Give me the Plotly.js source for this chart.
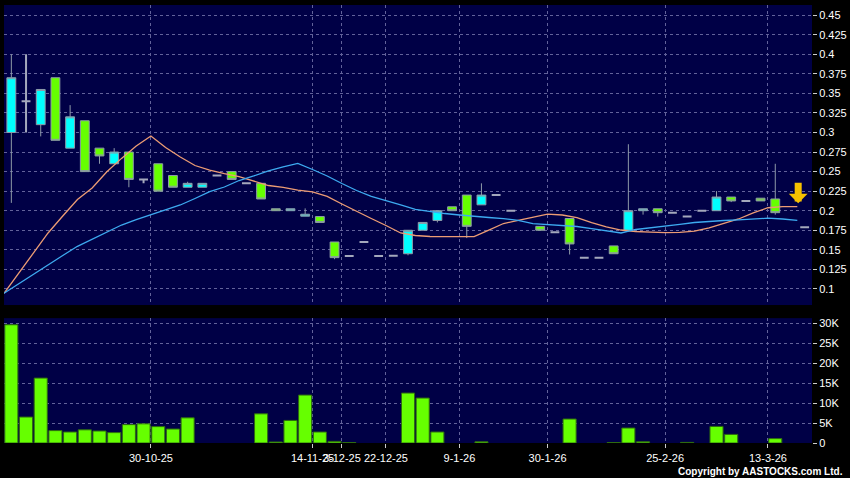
<!DOCTYPE html>
<html>
<head>
<meta charset="utf-8">
<script src="https://cdn.plot.ly/plotly-3.0.1.min.js"></script>
<style>
html,body{margin:0;padding:0;background:#000;}
#chart{width:850px;height:478px;}
</style>
</head>
<body>
<div id="chart"></div>
<script>
// ---- Candles with a real body (trading-day slot index) ----
const candleSlot  = [0,2,3,4,5,6,7,8,10,11,12,13,15,17,18,19,20,21,22,27,28,29,30,31,32,36,38,41,42,43,44,48,49,51,52];
const candleOpen  = [0.30,0.31,0.37,0.28,0.315,0.28,0.26,0.275,0.26,0.245,0.23,0.23,0.25,0.235,0.2025,0.2,0.193,0.1925,0.16,0.145,0.175,0.1875,0.205,0.22,0.2075,0.18,0.19,0.155,0.175,0.2,0.2025,0.2,0.2175,0.216,0.215];
const candleHigh  = [0.40,0.355,0.37,0.335,0.315,0.28,0.28,0.275,0.26,0.245,0.237,0.235,0.25,0.235,0.2025,0.2025,0.203,0.1925,0.16,0.175,0.185,0.2,0.205,0.22,0.235,0.18,0.19,0.155,0.285,0.2025,0.2025,0.225,0.2175,0.216,0.26];
const candleLow   = [0.21,0.295,0.29,0.28,0.25,0.26,0.26,0.23,0.225,0.23,0.23,0.23,0.24,0.215,0.2,0.2,0.193,0.185,0.138,0.143,0.175,0.185,0.2,0.165,0.2075,0.175,0.144,0.145,0.173,0.195,0.1925,0.2,0.211,0.2125,0.195];
const candleClose = [0.37,0.355,0.29,0.32,0.25,0.27,0.275,0.24,0.225,0.23,0.235,0.235,0.24,0.215,0.2,0.2025,0.1955,0.185,0.14,0.175,0.185,0.2,0.2,0.18,0.22,0.175,0.1575,0.145,0.2,0.2025,0.1975,0.2175,0.2125,0.2125,0.1975];

// ---- Flat (no-change) days drawn as dashes ----
const dashSlot  = [1,9,14,16,23,24,25,26,33,34,37,39,40,45,46,47,50,54];
const dashPrice = [0.34,0.24,0.245,0.235,0.142,0.16,0.142,0.1425,0.22,0.20,0.1725,0.14,0.14,0.1975,0.1925,0.20,0.2125,0.179];
const dashHigh  = [0.40,0.24,0.245,0.235,0.142,0.16,0.142,0.1425,0.22,0.20,0.1725,0.14,0.14,0.1975,0.1925,0.20,0.2125,0.179];
const dashLow   = [0.30,0.235,0.245,0.235,0.142,0.16,0.142,0.1425,0.22,0.20,0.1725,0.14,0.14,0.1975,0.1925,0.20,0.2125,0.179];

// ---- Moving averages (one value per slot boundary, 0..54) ----
const ma10 = [0.0944,0.1203,0.1459,0.1715,0.1932,0.2143,0.2290,0.2497,0.2669,0.2827,
              0.2955,0.2808,0.2687,0.2578,0.2520,0.2473,0.2437,0.2380,0.2322,0.2299,
              0.2262,0.2240,0.2182,0.2086,0.1990,0.1900,0.1811,0.1715,0.1683,0.1670,
              0.1668,0.1668,0.1668,0.1751,0.1836,0.1875,0.1919,0.1955,0.1945,0.1913,
              0.1849,0.1792,0.1753,0.1734,0.1725,0.1719,0.1724,0.1738,0.1781,0.1836,
              0.1894,0.1971,0.2038,0.2051,0.2051];
const ma20 = [0.0944,0.1067,0.1189,0.1311,0.1428,0.1545,0.1638,0.1733,0.1817,0.1887,
              0.1948,0.2015,0.2073,0.2156,0.2243,0.2303,0.2386,0.2444,0.2508,0.2559,
              0.2606,0.2527,0.2444,0.2348,0.2258,0.2182,0.2124,0.2073,0.2018,0.1990,
              0.1964,0.1945,0.1926,0.1913,0.1900,0.1877,0.1836,0.1824,0.1811,0.1798,
              0.1772,0.1747,0.1715,0.1760,0.1779,0.1801,0.1824,0.1849,0.1864,0.1875,
              0.1884,0.1896,0.1904,0.1894,0.1877];

// ---- Volume (thousands of shares) per slot 0..54 ----
const volumeK = [29.6,6.5,16.25,3.1,2.75,3.3,3.0,2.6,4.6,4.8,
                 4.1,3.5,6.3,null,null,null,null,7.3,0.25,5.65,
                 12.0,2.75,0.4,0.1,null,null,null,12.5,11.25,2.75,
                 null,null,0.3,null,null,null,null,null,6.0,null,
                 null,0.1,3.75,0.3,null,null,0.15,null,4.15,2.15,
                 null,null,1.1,null,null];

// ---- Axis labels ----
const dateTickSlot  = [10,21,23,26,31,37,45,52];
const dateTickLabel = ['30-10-25','14-11-25','3-12-25','22-12-25','9-1-26','30-1-26','25-2-26','13-3-26'];
const priceTicks    = [0.1,0.125,0.15,0.175,0.2,0.225,0.25,0.275,0.3,0.325,0.35,0.375,0.4,0.425,0.45];
const priceTickText = ['0.1','0.125','0.15','0.175','0.2','0.225','0.25','0.275','0.3','0.325','0.35','0.375','0.4','0.425','0.45'];
const volTicks      = [0,5,10,15,20,25,30];
const volTickText   = ['0','5K','10K','15K','20K','25K','30K'];

const slotsAll = volumeK.map((_, i) => i);
const maX = ma10.map((_, k) => k - 0.5);
const gridTickX = dateTickSlot.map(k => k - 0.5);

const wickColor = '#8e9aa8';
const gridColor = '#62629a';

const traces = [
  {
    type: 'candlestick', x: candleSlot, open: candleOpen, high: candleHigh, low: candleLow, close: candleClose,
    xaxis: 'x', yaxis: 'y', whiskerwidth: 0, hoverinfo: 'skip',
    increasing: {fillcolor: '#00ffff', line: {color: wickColor, width: 1}},
    decreasing: {fillcolor: '#66ff00', line: {color: wickColor, width: 1}}
  },
  {
    type: 'candlestick', x: dashSlot, open: dashPrice, high: dashHigh, low: dashLow, close: dashPrice,
    xaxis: 'x', yaxis: 'y', whiskerwidth: 0, hoverinfo: 'skip',
    increasing: {fillcolor: '#a4a8bc', line: {color: '#a4a8bc', width: 2}},
    decreasing: {fillcolor: '#a4a8bc', line: {color: '#a4a8bc', width: 2}}
  },
  {
    type: 'scatter', mode: 'lines', x: maX, y: ma10, xaxis: 'x', yaxis: 'y',
    line: {color: '#ec9c74', width: 1.3}, hoverinfo: 'skip'
  },
  {
    type: 'scatter', mode: 'lines', x: maX, y: ma20, xaxis: 'x', yaxis: 'y',
    line: {color: '#3daaf0', width: 1.3}, hoverinfo: 'skip'
  },
  {
    type: 'bar', x: slotsAll, y: volumeK, xaxis: 'x', yaxis: 'y2',
    marker: {color: '#66ff00', line: {color: '#2f6a10', width: 1}}, hoverinfo: 'skip'
  }
];

const layout = {
  width: 850, height: 478,
  paper_bgcolor: '#000000', plot_bgcolor: '#000046',
  margin: {l: 4, r: 38, t: 5, b: 35, pad: 0},
  showlegend: false,
  boxgap: 0.14, bargap: 0.11,
  font: {family: '"Liberation Sans", Arial, sans-serif', size: 11, color: '#ffffff'},
  xaxis: {
    range: [-0.5, 54.5], anchor: 'y2',
    tickmode: 'array', tickvals: gridTickX, ticktext: dateTickLabel, tickangle: 0,
    ticks: 'outside', ticklen: 4, tickcolor: '#cccccc', ticklabelstandoff: 1,
    showgrid: true, gridcolor: gridColor, gridwidth: 1, griddash: '3px,3px',
    zeroline: false, showline: false, fixedrange: true,
    rangeslider: {visible: false}
  },
  yaxis: {
    domain: [0.315, 1], range: [0.0794, 0.463], side: 'right', anchor: 'x',
    tickmode: 'array', tickvals: priceTicks, ticktext: priceTickText,
    ticks: 'outside', ticklen: 4, tickcolor: '#cccccc',
    showgrid: true, gridcolor: gridColor, gridwidth: 1, griddash: '3px,3px',
    zeroline: false, showline: false, fixedrange: true
  },
  yaxis2: {
    domain: [0, 0.285], range: [0, 31.25], side: 'right', anchor: 'x',
    tickmode: 'array', tickvals: volTicks, ticktext: volTickText,
    ticks: 'outside', ticklen: 4, tickcolor: '#cccccc',
    showgrid: true, gridcolor: gridColor, gridwidth: 1, griddash: '3px,3px',
    zeroline: false, showline: false, fixedrange: true
  },
  annotations: [
    {
      xref: 'x', yref: 'y', x: 53.56, y: 0.2095, ax: 0, ay: -22, axref: 'pixel', ayref: 'pixel',
      text: '', showarrow: true, arrowhead: 1, arrowsize: 0.45, arrowwidth: 7, arrowcolor: '#f7c200', standoff: 0
    },
    {
      xref: 'paper', yref: 'paper', x: 1.0408, y: -0.0662, xanchor: 'right', yanchor: 'middle',
      text: '<b>Copyright by AASTOCKS.com Ltd.</b>', showarrow: false,
      font: {size: 10, color: '#ffffff', family: '"Liberation Sans", Arial, sans-serif'}
    }
  ]
};

Plotly.newPlot('chart', traces, layout, {staticPlot: true, displayModeBar: false});
</script>
</body>
</html>
